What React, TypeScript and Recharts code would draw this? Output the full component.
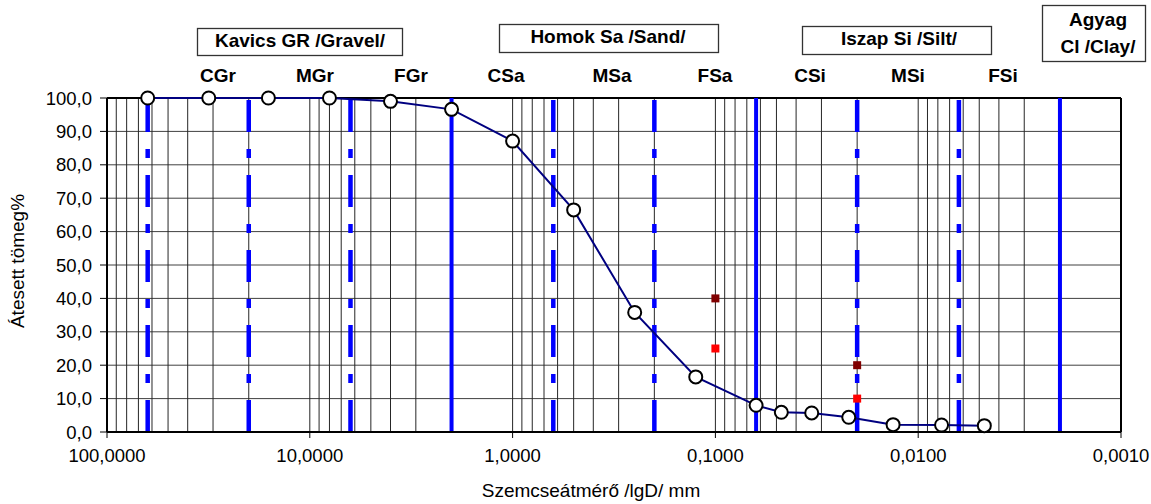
import React from "react";
import {
	ComposedChart,
	Line,
	Scatter,
	XAxis,
	YAxis,
	CartesianGrid,
	ReferenceLine,
} from "recharts";

// grain size distribution (sieve + hydrometer), diameter in mm
const grainDiameters = [
	63, 31.5, 16, 8, 4, 2, 1, 0.5, 0.25, 0.125, 0.063, 0.0473, 0.0335, 0.022,
	0.0133, 0.00767, 0.00472,
];
const passingPercent = [
	100, 100, 100, 100, 99.0, 96.6, 87.1, 66.5, 35.8, 16.5, 8.0, 5.9, 5.7, 4.4,
	2.2, 2.1, 1.9,
];

// limit markers
const upperLimitDiameters = [0.1, 0.02];
const upperLimitPercent = [40, 20];
const lowerLimitDiameters = [0.1, 0.02];
const lowerLimitPercent = [25, 10];

// soil class boundaries
const dashedBounds = [63, 20, 6.3, 0.63, 0.2, 0.02, 0.0063];
const solidBounds = [2, 0.063, 0.002];

const xTicks = [100, 10, 1, 0.1, 0.01, 0.001];
const yTicks = [0, 10, 20, 30, 40, 50, 60, 70, 80, 90, 100];

const groupLabels = [
	{ lines: ["Kavics GR /Gravel/"], box: [197, 28, 205, 27], cx: 300, base: [47] },
	{ lines: ["Homok Sa /Sand/"], box: [499, 24, 219, 28], cx: 608, base: [43] },
	{ lines: ["Iszap Si /Silt/"], box: [802, 26, 189, 28], cx: 899, base: [45] },
	{ lines: ["Agyag", "Cl /Clay/"], box: [1042, 5, 103, 56], cx: 1098, base: [26, 53] },
];
const subLabels = ["CGr", "MGr", "FGr", "CSa", "MSa", "FSa", "CSi", "MSi", "FSi"];
const subLabelX = [218, 315, 411, 506, 612, 715, 810, 908, 1003];

// log grid positions: 1..9 x 10^k
const minorGrid: number[] = [];
for (let k = -3; k <= 1; k++) {
	for (let m = 1; m <= 9; m++) minorGrid.push(Number((m * Math.pow(10, k)).toPrecision(3)));
}
minorGrid.push(100);

const lineData = grainDiameters.map((d, i) => ({ d, p: passingPercent[i] }));
const upperData = upperLimitDiameters.map((d, i) => ({ d, p: upperLimitPercent[i] }));
const lowerData = lowerLimitDiameters.map((d, i) => ({ d, p: lowerLimitPercent[i] }));

const font = '"Liberation Sans", Arial, sans-serif';

const fmtX = (v: number) => v.toFixed(4).replace(".", ",");
const fmtY = (v: number) => v.toFixed(1).replace(".", ",");

function square(color: string) {
	return (props: { cx?: number; cy?: number }) => (
		<rect
			x={(props.cx ?? 0) - 4}
			y={(props.cy ?? 0) - 4}
			width={8}
			height={8}
			fill={color}
		/>
	);
}

export default function App() {
	return (
		<div
			style={{
				position: "absolute",
				left: 0,
				top: 0,
				width: 1151,
				height: 504,
				background: "#fff",
				fontFamily: font,
			}}
		>
			<ComposedChart
				width={1151}
				height={504}
				margin={{ top: 98, right: 30, bottom: 0, left: 0 }}
			>
				<CartesianGrid vertical={false} stroke="#404040" strokeWidth={1} />
				<XAxis
					dataKey="d"
					type="number"
					scale="log"
					domain={[0.001, 100]}
					reversed
					allowDataOverflow
					ticks={xTicks}
					tickFormatter={fmtX}
					height={72}
					tickSize={6}
					tickMargin={11}
					axisLine={{ stroke: "#000", strokeWidth: 2 }}
					tickLine={{ stroke: "#000" }}
					tick={{ fill: "#000", fontSize: 18.5, fontFamily: font }}
				/>
				<YAxis
					dataKey="p"
					type="number"
					domain={[0, 100]}
					ticks={yTicks}
					tickFormatter={fmtY}
					width={107}
					tickSize={7}
					tickMargin={8}
					axisLine={{ stroke: "#000", strokeWidth: 2 }}
					tickLine={{ stroke: "#000" }}
					tick={{ fill: "#000", fontSize: 18.5, fontFamily: font }}
				/>
				{minorGrid.map((v) => (
					<ReferenceLine key={"g" + v} x={v} stroke="#262626" strokeWidth={1} />
				))}
				<ReferenceLine y={100} stroke="#000" strokeWidth={2} />
				<ReferenceLine x={0.001} stroke="#000" strokeWidth={2} />
				{dashedBounds.map((v) => (
					<ReferenceLine
						key={"d" + v}
						segment={[
							{ x: v, y: 0 },
							{ x: v, y: 100 },
						]}
						stroke="#0000ff"
						strokeWidth={4.5}
						strokeDasharray="32 17 9 17"
					/>
				))}
				{solidBounds.map((v) => (
					<ReferenceLine key={"s" + v} x={v} stroke="#0000ff" strokeWidth={4} />
				))}
				<Line
					data={lineData}
					dataKey="p"
					type="linear"
					stroke="#000080"
					strokeWidth={2}
					dot={{ r: 6.5, fill: "#fff", stroke: "#000", strokeWidth: 2 }}
					isAnimationActive={false}
				/>
				<Scatter
					data={upperData}
					dataKey="p"
					shape={square("#800000")}
					isAnimationActive={false}
				/>
				<Scatter
					data={lowerData}
					dataKey="p"
					shape={square("#ff0000")}
					isAnimationActive={false}
				/>
			</ComposedChart>
			<svg
				width={1151}
				height={504}
				style={{ position: "absolute", left: 0, top: 0, pointerEvents: "none" }}
				fontFamily={font}
			>
				{groupLabels.map((g) => (
					<g key={g.lines[0]}>
						<rect
							x={g.box[0] + 0.5}
							y={g.box[1] + 0.5}
							width={g.box[2]}
							height={g.box[3]}
							fill="#fff"
							stroke="#333"
							strokeWidth={1.3}
						/>
						{g.lines.map((t, i) => (
							<text
								key={t}
								x={g.cx}
								y={g.base[i]}
								textAnchor="middle"
								fontSize={19}
								fontWeight="bold"
								fill="#000"
							>
								{t}
							</text>
						))}
					</g>
				))}
				{subLabels.map((t, i) => (
					<text
						key={t}
						x={subLabelX[i]}
						y={82}
						textAnchor="middle"
						fontSize={19}
						fontWeight="bold"
						fill="#000"
					>
						{t}
					</text>
				))}
				<text
					transform="translate(24,261) rotate(-90)"
					textAnchor="middle"
					fontSize={19}
					fill="#000"
				>
					Átesett tömeg%
				</text>
				<text x={591} y={497} textAnchor="middle" fontSize={19} fill="#000">
					Szemcseátmérő /lgD/ mm
				</text>
			</svg>
		</div>
	);
}
